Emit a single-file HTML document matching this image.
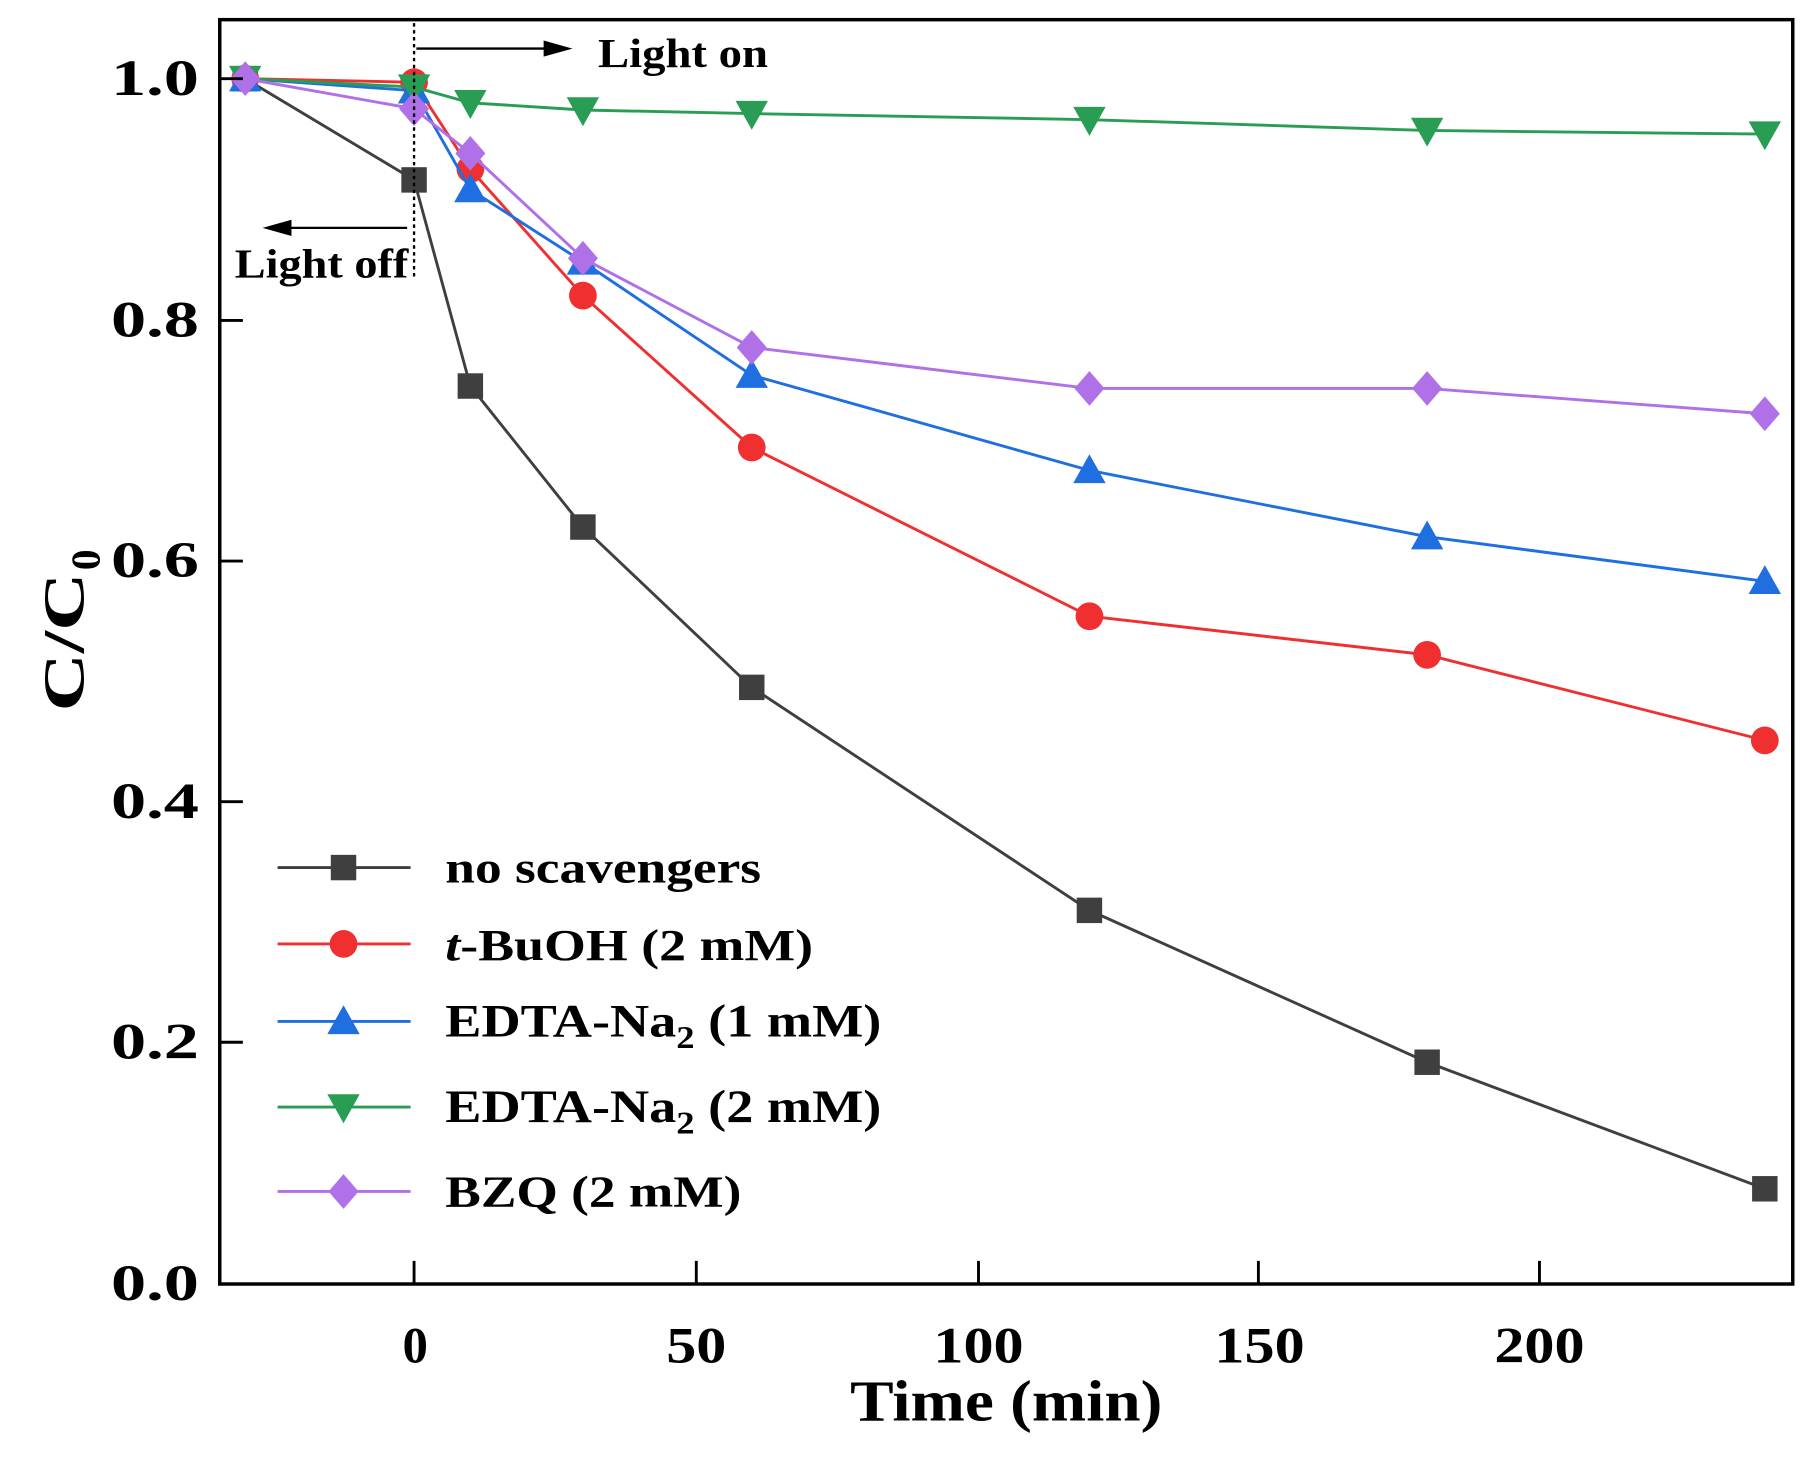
<!DOCTYPE html>
<html><head><meta charset="utf-8"><style>
html,body{margin:0;padding:0;background:#fff;}
svg{display:block;}
text{font-family:"Liberation Serif","Times New Roman",serif;font-weight:bold;fill:#000;}
</style></head><body>
<svg id="s" width="1813" height="1461" viewBox="0 0 1567.5 1263" preserveAspectRatio="none" xmlns="http://www.w3.org/2000/svg">
<rect x="0" y="0" width="1567.5" height="1263" fill="#fff"/>
<g id="plot"></g>
<rect x="190" y="17" width="1360" height="1093" fill="none" stroke="#000" stroke-width="3"/>
<g stroke="#000" stroke-width="2.5">
<line x1="358" y1="1110" x2="358" y2="1090"/><line x1="602" y1="1110" x2="602" y2="1090"/>
<line x1="846" y1="1110" x2="846" y2="1090"/><line x1="1088" y1="1110" x2="1088" y2="1090"/>
<line x1="1331" y1="1110" x2="1331" y2="1090"/>
<line x1="190" y1="1110" x2="210" y2="1110"/><line x1="190" y1="901" x2="210" y2="901"/>
<line x1="190" y1="693" x2="210" y2="693"/><line x1="190" y1="485" x2="210" y2="485"/>
<line x1="190" y1="277" x2="210" y2="277"/><line x1="190" y1="68" x2="210" y2="68"/>
</g>
<g font-size="44" text-anchor="end">
<text x="172" y="1124" textLength="76" lengthAdjust="spacingAndGlyphs">0.0</text>
<text x="172" y="915" textLength="76" lengthAdjust="spacingAndGlyphs">0.2</text>
<text x="172" y="707" textLength="76" lengthAdjust="spacingAndGlyphs">0.4</text>
<text x="172" y="499" textLength="76" lengthAdjust="spacingAndGlyphs">0.6</text>
<text x="172" y="291" textLength="76" lengthAdjust="spacingAndGlyphs">0.8</text>
<text x="172" y="82" textLength="76" lengthAdjust="spacingAndGlyphs">1.0</text>
</g>
<g font-size="44" text-anchor="middle">
<text x="359" y="1178">0</text>
<text x="602" y="1178" textLength="52" lengthAdjust="spacingAndGlyphs">50</text>
<text x="846" y="1178" textLength="78" lengthAdjust="spacingAndGlyphs">100</text>
<text x="1089" y="1178" textLength="78" lengthAdjust="spacingAndGlyphs">150</text>
<text x="1331" y="1178" textLength="78" lengthAdjust="spacingAndGlyphs">200</text>
</g>
<text x="870" y="1228" font-size="50" text-anchor="middle" textLength="270" lengthAdjust="spacingAndGlyphs">Time (min)</text>
<g transform="translate(72,540) rotate(-90)">
<text x="-75" y="0" font-size="50" textLength="120" lengthAdjust="spacingAndGlyphs">C/C</text>
<text x="47" y="14" font-size="36">0</text>
</g>
<line x1="358" y1="20" x2="358" y2="240" stroke="#000" stroke-width="2" stroke-dasharray="3,3"/>
<line x1="360" y1="42" x2="475" y2="42" stroke="#000" stroke-width="2"/>
<polygon points="495,42 470,35 470,49" fill="#000"/>
<text x="517" y="58" font-size="36" textLength="147" lengthAdjust="spacingAndGlyphs">Light on</text>
<line x1="352" y1="197" x2="245" y2="197" stroke="#000" stroke-width="2"/>
<polygon points="227,197 252,190 252,204" fill="#000"/>
<text x="203" y="240" font-size="36" textLength="150" lengthAdjust="spacingAndGlyphs">Light off</text>
<g id="leg"></g>
<g font-size="38">
<text x="385" y="763" textLength="273" lengthAdjust="spacingAndGlyphs">no scavengers</text>
<text x="385" y="830" textLength="318" lengthAdjust="spacingAndGlyphs"><tspan font-style="italic">t</tspan>-BuOH (2 mM)</text>
<text x="385" y="896" font-size="40" textLength="377" lengthAdjust="spacingAndGlyphs"><tspan>EDTA-Na</tspan><tspan font-size="27" dy="10">2</tspan><tspan dy="-10"> (1 mM)</tspan></text>
<text x="385" y="970" font-size="40" textLength="377" lengthAdjust="spacingAndGlyphs"><tspan>EDTA-Na</tspan><tspan font-size="27" dy="10">2</tspan><tspan dy="-10"> (2 mM)</tspan></text>
<text x="385" y="1043" textLength="256" lengthAdjust="spacingAndGlyphs">BZQ (2 mM)</text>
</g>
</svg>
<script>
var NS="http://www.w3.org/2000/svg";
function X(t){return 358+4.866*t;}function Y(v){return 1110-1042*v;}
var T=[-30,0,10,30,60,120,180,240];
var S=[
{c:"#3f3f3f",m:"sq",d:[1,0.916,0.745,0.628,0.495,0.31,0.184,0.079]},
{c:"#f03030",m:"ci",d:[1,0.997,0.925,0.82,0.694,0.554,0.522,0.451]},
{c:"#1f6fe0",m:"up",d:[1,0.99,0.908,0.848,0.754,0.675,0.62,0.583]},
{c:"#2a9d55",m:"dn",d:[1,0.993,0.98,0.974,0.971,0.966,0.957,0.954]},
{c:"#b070e8",m:"di",d:[1,0.975,0.938,0.851,0.777,0.743,0.743,0.722]}];
function el(n,a,p){var e=document.createElementNS(NS,n);for(var k in a)e.setAttribute(k,a[k]);p.appendChild(e);return e;}
function mk(m,x,y,c,p){
 if(m=="sq")el("rect",{x:x-11,y:y-11,width:22,height:22,fill:c},p);
 else if(m=="ci")el("circle",{cx:x,cy:y,r:12,fill:c},p);
 else if(m=="up")el("polygon",{points:(x)+","+(y-14)+" "+(x-14)+","+(y+11)+" "+(x+14)+","+(y+11),fill:c},p);
 else if(m=="dn")el("polygon",{points:(x)+","+(y+14)+" "+(x-14)+","+(y-11)+" "+(x+14)+","+(y-11),fill:c},p);
 else el("polygon",{points:x+","+(y-15)+" "+(x+13)+","+y+" "+x+","+(y+15)+" "+(x-13)+","+y,fill:c},p);
}
var g=document.getElementById("plot"),L=document.getElementById("leg");
var ly=[750,816,883,957,1030];
S.forEach(function(s,i){
 var pts=T.map(function(t,j){return X(t)+","+Y(s.d[j]);}).join(" ");
 el("polyline",{points:pts,fill:"none",stroke:s.c,"stroke-width":2.5},g);
 T.forEach(function(t,j){mk(s.m,X(t),Y(s.d[j]),s.c,g);});
 el("line",{x1:240,y1:ly[i],x2:355,y2:ly[i],stroke:s.c,"stroke-width":2.5},L);
 mk(s.m,297,ly[i],s.c,L);
});
</script>
</body></html>
